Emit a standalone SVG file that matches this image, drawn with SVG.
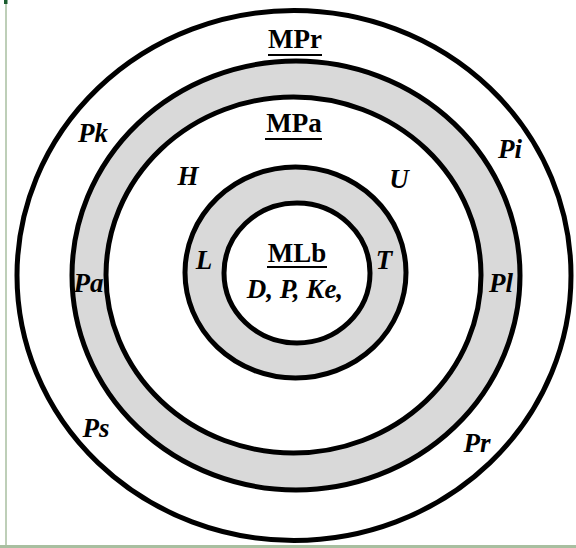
<svg xmlns="http://www.w3.org/2000/svg" width="576" height="548" viewBox="0 0 576 548">
  <style>
    .ring { stroke: #000; stroke-width: 5; }
    .white { fill: #fff; }
    .gray { fill: #d9d9d9; }
    .title { font-family: "Liberation Serif", "Times New Roman", serif; font-weight: bold; font-size: 27px; fill: #000; text-anchor: middle; }
    .lbl { font-family: "Liberation Serif", "Times New Roman", serif; font-weight: bold; font-style: italic; font-size: 27px; fill: #000; text-anchor: middle; }
    .ul { stroke: #000; stroke-width: 2; }
  </style>
  <rect width="576" height="548" fill="#fff"/>
  <g id="frame">
    <line x1="6" y1="0" x2="6" y2="548" stroke="#a8bfa0" stroke-width="1.5"/>
    <rect x="0" y="545" width="576" height="3" fill="#a8bfa0"/>
    <rect x="4" y="0" width="3.5" height="4" fill="#1a5c2e"/>
  </g>
  <g id="MPr">
    <ellipse class="ring white" cx="294" cy="275.5" rx="277" ry="265"/>
    <text class="title" x="295" y="48">MPr</text>
    <line class="ul" x1="268" y1="55" x2="322" y2="55"/>
    <text class="lbl" x="93" y="142">Pk</text>
    <text class="lbl" x="510" y="158">Pi</text>
    <text class="lbl" x="96" y="437">Ps</text>
    <text class="lbl" x="477" y="452">Pr</text>
  </g>
  <g id="MPa-ring">
    <ellipse class="ring gray" cx="296" cy="275.5" rx="224" ry="214.5"/>
    <text class="lbl" x="88.5" y="292">Pa</text>
    <text class="lbl" x="501" y="292">Pl</text>
  </g>
  <g id="MPa">
    <ellipse class="ring white" cx="293.5" cy="275" rx="187.5" ry="178"/>
    <text class="title" x="294" y="132">MPa</text>
    <line class="ul" x1="265" y1="139" x2="322" y2="139"/>
    <text class="lbl" x="188" y="185">H</text>
    <text class="lbl" x="399" y="188">U</text>
  </g>
  <g id="MLb-ring">
    <ellipse class="ring gray" cx="295.5" cy="272.5" rx="110.5" ry="105.5"/>
    <text class="lbl" x="204" y="269">L</text>
    <text class="lbl" x="384" y="269">T</text>
  </g>
  <g id="MLb">
    <ellipse class="ring white" cx="297" cy="273" rx="73" ry="70"/>
    <text class="title" x="297" y="262">MLb</text>
    <line class="ul" x1="267" y1="267" x2="327" y2="267"/>
    <text class="lbl" x="295" y="298">D, P, Ke,</text>
  </g>
</svg>
